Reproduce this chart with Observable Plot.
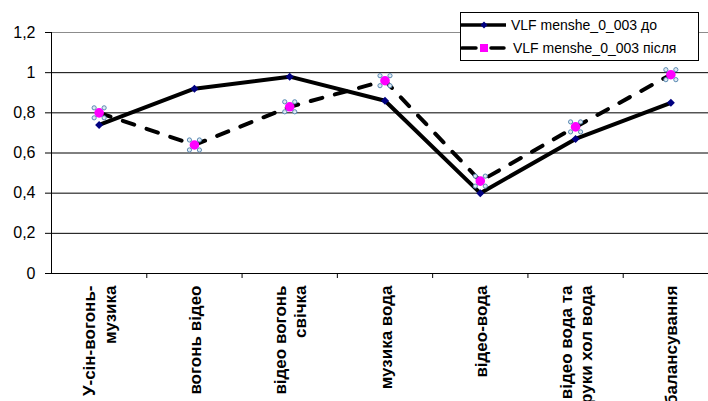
<!DOCTYPE html>
<html>
<head>
<meta charset="utf-8">
<script src="https://cdn.jsdelivr.net/npm/d3@7"></script>
<script src="https://cdn.jsdelivr.net/npm/@observablehq/plot@0.6"></script>
<style>
  html, body { margin: 0; padding: 0; background: #fff; overflow: hidden; }
  #chart { position: relative; width: 708px; height: 401px; overflow: hidden; }
  #chart svg { overflow: hidden; }
  .legend { position: absolute; left: 460px; top: 12px; width: 237px; height: 47px;
    border: 1px solid #000; background: #fff; font-family: "Liberation Sans", Arial, sans-serif; font-size: 14px; }
  .legend svg { position: absolute; left: 0; top: 0; }
</style>
</head>
<body>
<div id="chart"></div>
<script>
const categories = [
  "У-сін-вогонь-\nмузика",
  "вогонь відео",
  "відео вогонь\nсвічка",
  "музика вода",
  "відео-вода",
  "відео вода та\nруки хол вода",
  "балансування"
];
const seriesNames = ["VLF menshe_0_003 до", "VLF menshe_0_003 після"];
const before = [0.74, 0.92, 0.98, 0.86, 0.40, 0.67, 0.85];
const after  = [0.80, 0.64, 0.83, 0.96, 0.46, 0.73, 0.99];
const yTicks = [0, 0.2, 0.4, 0.6, 0.8, 1, 1.2];
const boundaries = [1, 2, 3, 4, 5, 6];

const font = "'Liberation Sans', Arial, sans-serif";
const rowsBefore = before.map((v, i) => ({x: i + 0.5, v}));
const rowsAfter = after.map((v, i) => ({x: i + 0.5, v}));
const labelRows = categories.map((c, i) => ({x: i + 0.5, c}));
const handles = [[-5, -5], [5, -5], [-5, 5], [5, 5]];

const fmt = d => String(d).replace(".", ",");

const plot = Plot.plot({
  width: 708,
  height: 401,
  marginLeft: 51,
  marginRight: 0,
  marginTop: 32,
  marginBottom: 128,
  style: {fontFamily: font, background: "#fff", overflow: "hidden"},
  x: {type: "linear", domain: [0, 7], range: [51, 718], label: null},
  y: {domain: [0, 1.2], range: [273, 32], label: null},
  marks: [
    Plot.ruleY(yTicks.filter(d => d > 0 && d < 1.2), {stroke: "#000", strokeWidth: 1}),
    Plot.ruleY([1.2], {stroke: "#8c8c8c"}),
    Plot.ruleY([0], {stroke: "#000"}),
    Plot.ruleX([0], {y1: 0, y2: 1.2, stroke: "#000"}),
    Plot.axisY({ticks: yTicks, tickSize: 6, tickPadding: 10, tickFormat: fmt, fontSize: 16, stroke: "#000", color: "#000", label: null}),
    Plot.axisX({ticks: boundaries, tickSize: 5, tickFormat: () => "", stroke: "#000", label: null}),
    Plot.text(labelRows, {x: "x", text: "c", frameAnchor: "bottom", dy: 12, rotate: -90,
      textAnchor: "end", lineAnchor: "middle", lineHeight: 1.2, fontSize: 17, fontWeight: "bold", fill: "#000"}),
    Plot.line(rowsBefore, {x: "x", y: "v", stroke: "#000", strokeWidth: 4}),
    Plot.line(rowsAfter, {x: "x", y: "v", stroke: "#000", strokeWidth: 4, strokeDasharray: "12,13", strokeLinecap: "round"}),
    Plot.dot(rowsBefore, {x: "x", y: "v", symbol: "diamond2", r: 3.6, fill: "#000080", stroke: "none"}),
    Plot.dot(rowsAfter, {x: "x", y: "v", r: 4.8, fill: "#ff00ff", stroke: "none"}),
    ...handles.map(([dx, dy]) => Plot.dot(rowsAfter, {x: "x", y: "v", dx, dy, r: 2.1, fill: "#dfe9f2", stroke: "#5a8ab3", strokeWidth: 1}))
  ]
});

const chart = document.getElementById("chart");
chart.appendChild(plot);

const legend = document.createElement("div");
legend.className = "legend";
legend.innerHTML = `
<svg width="237" height="47">
  <line x1="0" y1="12" x2="45" y2="12" stroke="#000" stroke-width="3.5"/>
  <path d="M23 8.5 L26.5 12 L23 15.5 L19.5 12 Z" fill="#000080"/>
  <text x="50" y="17" font-size="14" fill="#000">${seriesNames[0]}</text>
  <line x1="1" y1="35" x2="15" y2="35" stroke="#000" stroke-width="3.5" stroke-linecap="round"/>
  <line x1="30" y1="35" x2="43" y2="35" stroke="#000" stroke-width="3.5" stroke-linecap="round"/>
  <rect x="19" y="31" width="8" height="8" fill="#ff00ff"/>
  <text x="52" y="40" font-size="14" fill="#000">${seriesNames[1]}</text>
</svg>`;
chart.appendChild(legend);
</script>
</body>
</html>
